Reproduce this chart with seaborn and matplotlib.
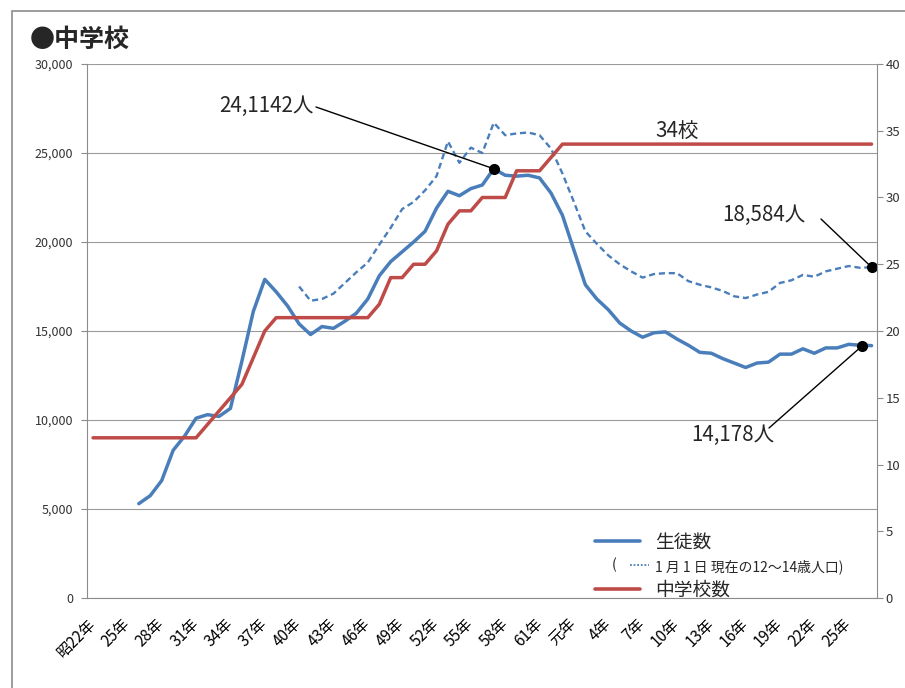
import numpy as np
import pandas as pd
import matplotlib
matplotlib.use('Agg')
import matplotlib.pyplot as plt
import seaborn as sns
from matplotlib.lines import Line2D
from matplotlib.patches import Rectangle
from matplotlib.legend_handler import HandlerBase
from matplotlib.text import Text

nan = np.nan

# 昭和22年(1947) ～ 平成27年(2015)
years = list(range(1947, 2016))
tick_labels = ['昭22年', '25年', '28年', '31年', '34年', '37年', '40年', '43年',
               '46年', '49年', '52年', '55年', '58年', '61年', '元年', '4年',
               '7年', '10年', '13年', '16年', '19年', '22年', '25年']

# 生徒数
students = [nan, nan, nan, nan,
            5300, 5750, 6600, 8300, 9100, 10100, 10300, 10200, 10650, 13300,
            16100, 17900, 17200, 16400, 15400, 14800, 15250, 15150, 15550, 16000,
            16800, 18100, 18900, 19450, 20000, 20600, 21900, 22850, 22600, 23000,
            23200, 24114, 23750, 23700, 23750, 23600, 22750, 21500, 19550, 17600,
            16800, 16200, 15450, 15000, 14650, 14900, 14950, 14550, 14200, 13800,
            13750, 13450, 13200, 12950, 13200, 13250, 13700, 13700, 14000, 13750,
            14050, 14050, 14250, 14200, 14178]

# 1月1日現在の12～14歳人口
population = [nan] * 18 + [
    17500, 16700, 16800, 17100, 17700, 18300, 18850, 19850, 20800, 21850,
    22250, 22900, 23700, 25650, 24450, 25300, 25000, 26700, 26000, 26100,
    26150, 26000, 25250, 23850, 22250, 20600, 19900, 19250, 18750, 18350,
    18000, 18200, 18250, 18250, 17800, 17600, 17450, 17250, 16950, 16850,
    17050, 17200, 17700, 17850, 18150, 18050, 18350, 18500, 18650, 18550,
    18584]

# 中学校数
schools = [12] * 10 + [13, 14, 15, 16, 18, 20] + [21] * 9 + [22, 24, 24, 25, 25, 26,
           28, 29, 29, 30, 30, 30, 32, 32, 32, 33] + [34] * 28

BLUE = '#4A7EBB'
RED = '#BE4B48'
GRID = '#9A9A9A'
AXC = '#8C8C8C'

df = pd.DataFrame({'idx': np.arange(len(years)), 'year': years,
                   'students': students, 'population': population,
                   'schools': schools})

sns.set_theme(style='white')
plt.rcParams['font.family'] = ['Noto Sans CJK JP', 'DejaVu Sans']

W, H = 905, 688
fig = plt.figure(figsize=(W / 100, H / 100), dpi=100)
ax = fig.add_axes([87.3 / W, 1 - 598 / H, 790 / W, 534 / H])
ax2 = ax.twinx()

sns.lineplot(data=df, x='idx', y='population', ax=ax, color=BLUE, lw=1.7,
             linestyle=(0, (2.6, 1.6)), zorder=3)
sns.lineplot(data=df, x='idx', y='students', ax=ax, color=BLUE, lw=2.5, zorder=4)
sns.lineplot(data=df, x='idx', y='schools', ax=ax2, color=RED, lw=2.5, zorder=3)

n = len(years)
ax.set_xlim(-0.5, n - 0.5)
ax.set_ylim(0, 30000)
ax2.set_ylim(0, 40)

ax.set_yticks(range(0, 30001, 5000))
ax.set_yticklabels([f'{v:,}' for v in range(0, 30001, 5000)])
ax2.set_yticks(range(0, 41, 5))
ax.set_xticks(np.arange(0, n, 3))
ax.set_xticklabels(tick_labels, rotation=45, ha='right', va='center',
                   rotation_mode='anchor', fontsize=11, color='black')
ax.set_xticks(np.arange(-0.5, n, 1), minor=True)
ax.tick_params(axis='x', which='major', length=0, pad=17)
ax.tick_params(axis='x', which='minor', length=4, width=0.8, color=AXC, direction='out')
ax.tick_params(axis='y', length=4, width=0.8, color=AXC, direction='out', pad=6,
               labelsize=9, labelcolor='#333333')
ax2.tick_params(axis='y', length=4, width=0.8, color=AXC, direction='out', pad=2,
                labelsize=9.5, labelcolor='#333333')
ax.set_xlabel('')
ax.set_ylabel('')
ax2.set_ylabel('')
ax.yaxis.grid(True, color=GRID, lw=0.8)
ax.set_axisbelow(True)

for s in ['top', 'right']:
    ax.spines[s].set_visible(False)
for s in ['top', 'left', 'bottom']:
    ax2.spines[s].set_visible(False)
for s in ['left', 'bottom']:
    ax.spines[s].set_color(AXC)
    ax.spines[s].set_linewidth(0.8)
ax2.spines['right'].set_color(AXC)
ax2.spines['right'].set_linewidth(0.8)

# annotations
fs_ann = 14.8
peak_i = int(np.nanargmax(students))
ax.plot(peak_i, students[peak_i], 'o', color='black', ms=7, zorder=6, clip_on=False)
ax.annotate('', xy=(peak_i, students[peak_i]), xytext=(316 / W, 1 - 107 / H),
            textcoords='figure fraction', annotation_clip=False,
            arrowprops=dict(arrowstyle='-', color='black', lw=1, shrinkA=0, shrinkB=0))
fig.text(266 / W, 1 - 106 / H, '24,1142人', fontsize=fs_ann, ha='center', va='center')

last_i = n - 1
ax.plot(last_i, population[last_i], 'o', color='black', ms=7, zorder=6, clip_on=False)
ax.annotate('', xy=(last_i, population[last_i]), xytext=(821 / W, 1 - 219 / H),
            textcoords='figure fraction', annotation_clip=False,
            arrowprops=dict(arrowstyle='-', color='black', lw=1, shrinkA=0, shrinkB=0))
fig.text(764 / W, 1 - 215 / H, '18,584人', fontsize=fs_ann, ha='center', va='center')

ax.plot(last_i - 0.8, students[last_i], 'o', color='black', ms=7, zorder=6, clip_on=False)
ax.annotate('', xy=(last_i - 0.8, students[last_i]), xytext=(769 / W, 1 - 428 / H),
            textcoords='figure fraction', annotation_clip=False,
            arrowprops=dict(arrowstyle='-', color='black', lw=1, shrinkA=0, shrinkB=0))
fig.text(733 / W, 1 - 435 / H, '14,178人', fontsize=fs_ann, ha='center', va='center')

fig.text(677 / W, 1 - 131 / H, '34校', fontsize=fs_ann, ha='center', va='center')

# title and outer frame
fig.text(30 / W, 1 - 40 / H, '●中学校', fontsize=18, fontweight='bold', ha='left', va='center')
fig.patches.append(Rectangle((11.5 / W, -0.1), 2, 1.1 - 10.5 / H, transform=fig.transFigure,
                             fill=False, edgecolor='#8C8C8C', lw=1.2))


# legend: middle row is "( ……1 月 1 日 現在の12～14歳人口)"
class ParenHandler(HandlerBase):
    def create_artists(self, legend, orig_handle, xdescent, ydescent, width, height,
                       fontsize, trans):
        y = height / 2 - ydescent
        t = Text(0.38 * width - xdescent, y, '(', fontsize=fontsize * 0.75,
                 va='center', ha='left', color='#262626')
        t.set_transform(trans)
        ln = Line2D([0.78 * width - xdescent, width + 0.5 * fontsize - xdescent], [y, y],
                    color=orig_handle.get_color(), lw=1.3, linestyle=(0, (1, 1)))
        ln.set_transform(trans)
        return [t, ln]


h_st = Line2D([], [], color=BLUE, lw=2.6)
h_pop = Line2D([], [], color=BLUE, lw=1.3)
h_sc = Line2D([], [], color=RED, lw=2.6)
leg = ax2.legend([h_st, h_pop, h_sc],
                 ['生徒数', '1 月 1 日 現在の12～14歳人口)', '中学校数'],
                 handler_map={h_pop: ParenHandler()},
                 loc='upper left', bbox_to_anchor=((595 - 87.3) / 790, (598 - 532) / 534),
                 frameon=False, fontsize=13.5, handlelength=2.4, handletextpad=0.8,
                 borderpad=0, borderaxespad=0, labelspacing=0.28)
for t in leg.get_texts():
    t.set_color('#262626')
leg.get_texts()[1].set_fontsize(10)

fig.savefig('out.png', dpi=100)
